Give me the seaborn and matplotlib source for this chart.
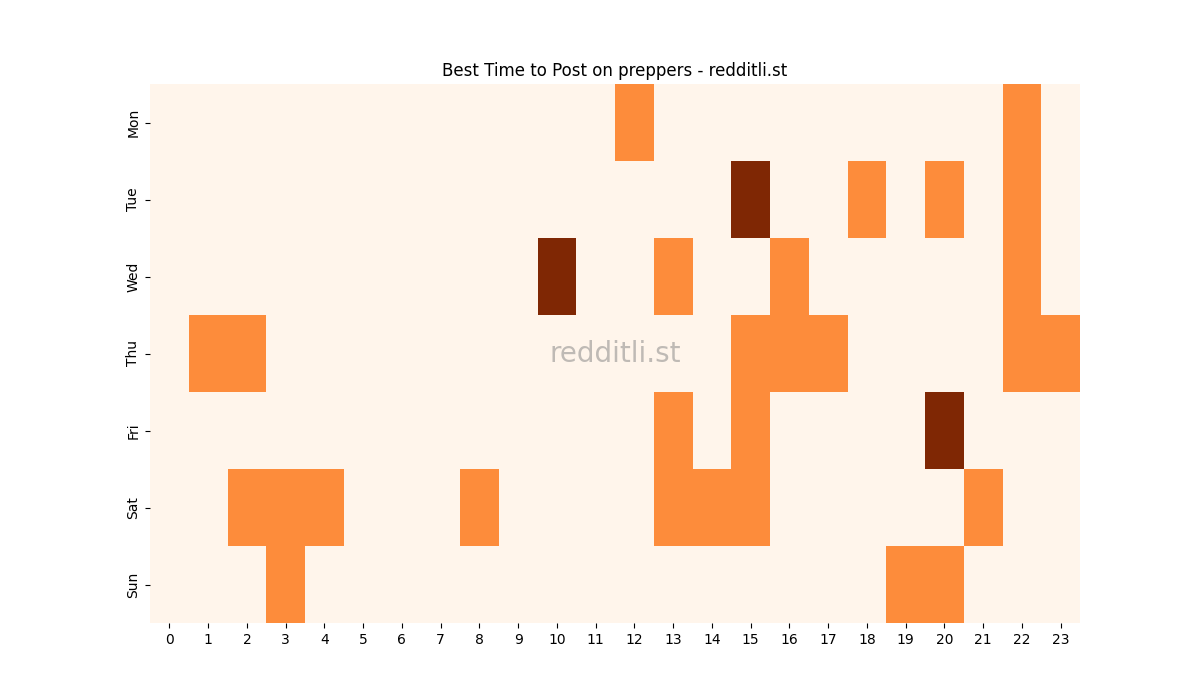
import matplotlib
matplotlib.use("Agg")
import matplotlib.pyplot as plt
import seaborn as sns
import numpy as np
import pandas as pd

days = ["Mon", "Tue", "Wed", "Thu", "Fri", "Sat", "Sun"]
hours = list(range(24))

mon = [0,0,0,0,0,0,0,0,0,0,0,0,1,0,0,0,0,0,0,0,0,0,1,0]
tue = [0,0,0,0,0,0,0,0,0,0,0,0,0,0,0,2,0,0,1,0,1,0,1,0]
wed = [0,0,0,0,0,0,0,0,0,0,2,0,0,1,0,0,1,0,0,0,0,0,1,0]
thu = [0,1,1,0,0,0,0,0,0,0,0,0,0,0,0,1,1,1,0,0,0,0,1,1]
fri = [0,0,0,0,0,0,0,0,0,0,0,0,0,1,0,1,0,0,0,0,2,0,0,0]
sat = [0,0,1,1,1,0,0,0,1,0,0,0,0,1,1,1,0,0,0,0,0,1,0,0]
sun = [0,0,0,1,0,0,0,0,0,0,0,0,0,0,0,0,0,0,0,1,1,0,0,0]

df = pd.DataFrame([mon, tue, wed, thu, fri, sat, sun], index=days, columns=hours)

fig, ax = plt.subplots(figsize=(12, 7), dpi=100)
sns.heatmap(df, cmap="Oranges", cbar=False, ax=ax)
ax.set_title("Best Time to Post on preppers - redditli.st", fontsize=12)
ax.set_xlabel("")
ax.set_ylabel("")
ax.text(0.5, 0.5, "redditli.st", transform=ax.transAxes, ha="center", va="center",
        fontsize=20, color="gray", alpha=0.5)
fig.savefig("out.png", dpi=100)
